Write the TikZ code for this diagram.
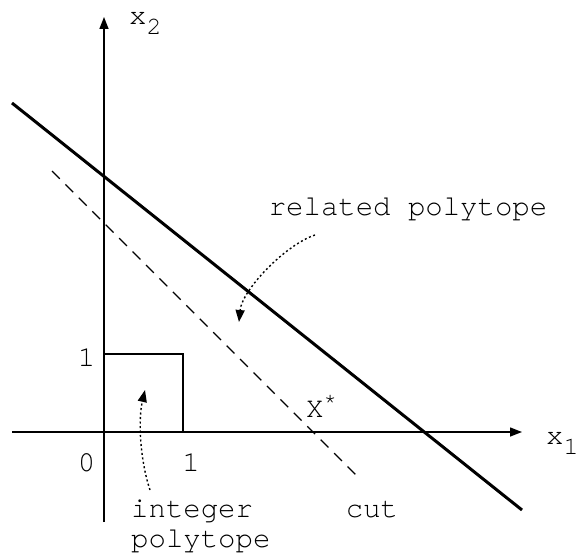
\documentclass[tikz,border=0pt]{standalone}
\usepackage{fontspec}
\setmainfont{TeX Gyre Cursor}
\usepackage{tikz}
\usetikzlibrary{positioning, arrows.meta, calc}

\newcommand{\lowsub}[1]{\raisebox{-10pt}{\fontsize{25}{27}\selectfont #1}}

\begin{document}
\begin{tikzpicture}[
    x=1pt, y=-1pt,
    axis/.style={line width=1.4pt, -{Triangle[length=12pt, width=9pt]}},
    boundline/.style={line width=3pt},
    cutline/.style={line width=1.3pt, dash pattern=on 11pt off 8pt},
    unitbox/.style={line width=1.4pt},
    pointer/.style={line width=1.4pt, dash pattern=on 2pt off 2.5pt, -{Triangle[length=12pt, width=9pt]}},
    lbl/.style={inner sep=0pt, font=\fontsize{29}{30}\selectfont}
]
\useasboundingbox (0,0) rectangle (580,556);

\coordinate (origin) at (104,432);
\coordinate (xstart) at (12,432);
\coordinate (xend) at (522,432);
\coordinate (ystart) at (104,522);
\coordinate (yend) at (104,17);
\coordinate (boxtl) at (104,354);
\coordinate (boxtr) at (183,354);
\coordinate (boxbr) at (183,432);
\coordinate (bound_a) at (12,103);
\coordinate (bound_b) at (522,510);
\coordinate (cut_a) at (52,171);
\coordinate (cut_b) at (357,476);

\node[lbl, anchor=base west] (xtwo) at (129,25) {x\lowsub{2}};
\node[lbl, anchor=base west] (xone) at (546,444) {x\lowsub{1}};
\node[lbl, anchor=base] (ytick) at (86.5,366) {1};
\node[lbl, anchor=base] (zero) at (86.5,471) {0};
\node[lbl, anchor=base] (xtick) at (191,471) {1};
\node[lbl, anchor=base west] (xstar) at (306,417) {X\raisebox{9pt}{\fontsize{22}{24}\selectfont *}};
\node[lbl, anchor=base] (cut) at (372,517) {cut};
\node[lbl, anchor=base] (related) at (408,215) {related polytope};
\node[lbl, anchor=north west, align=left] (integer) at (131,500) {integer\\polytope};

\coordinate (rel_from) at (315,235);
\coordinate (rel_to) at (239,322);
\coordinate (int_from) at (150,490);
\coordinate (int_to) at (145,390);

\draw[axis] (xstart) -- (xend);
\draw[axis] (ystart) -- (yend);
\draw[unitbox] (boxtl) -- (boxtr) -- (boxbr);
\draw[boundline] (bound_a) -- (bound_b);
\draw[cutline] (cut_a) -- (cut_b);
\draw[pointer] (rel_from) .. controls (285,245) and (242,290) .. (rel_to);
\draw[pointer] (int_from) .. controls (140,460) and (138,420) .. (int_to);
\end{tikzpicture}
\end{document}
